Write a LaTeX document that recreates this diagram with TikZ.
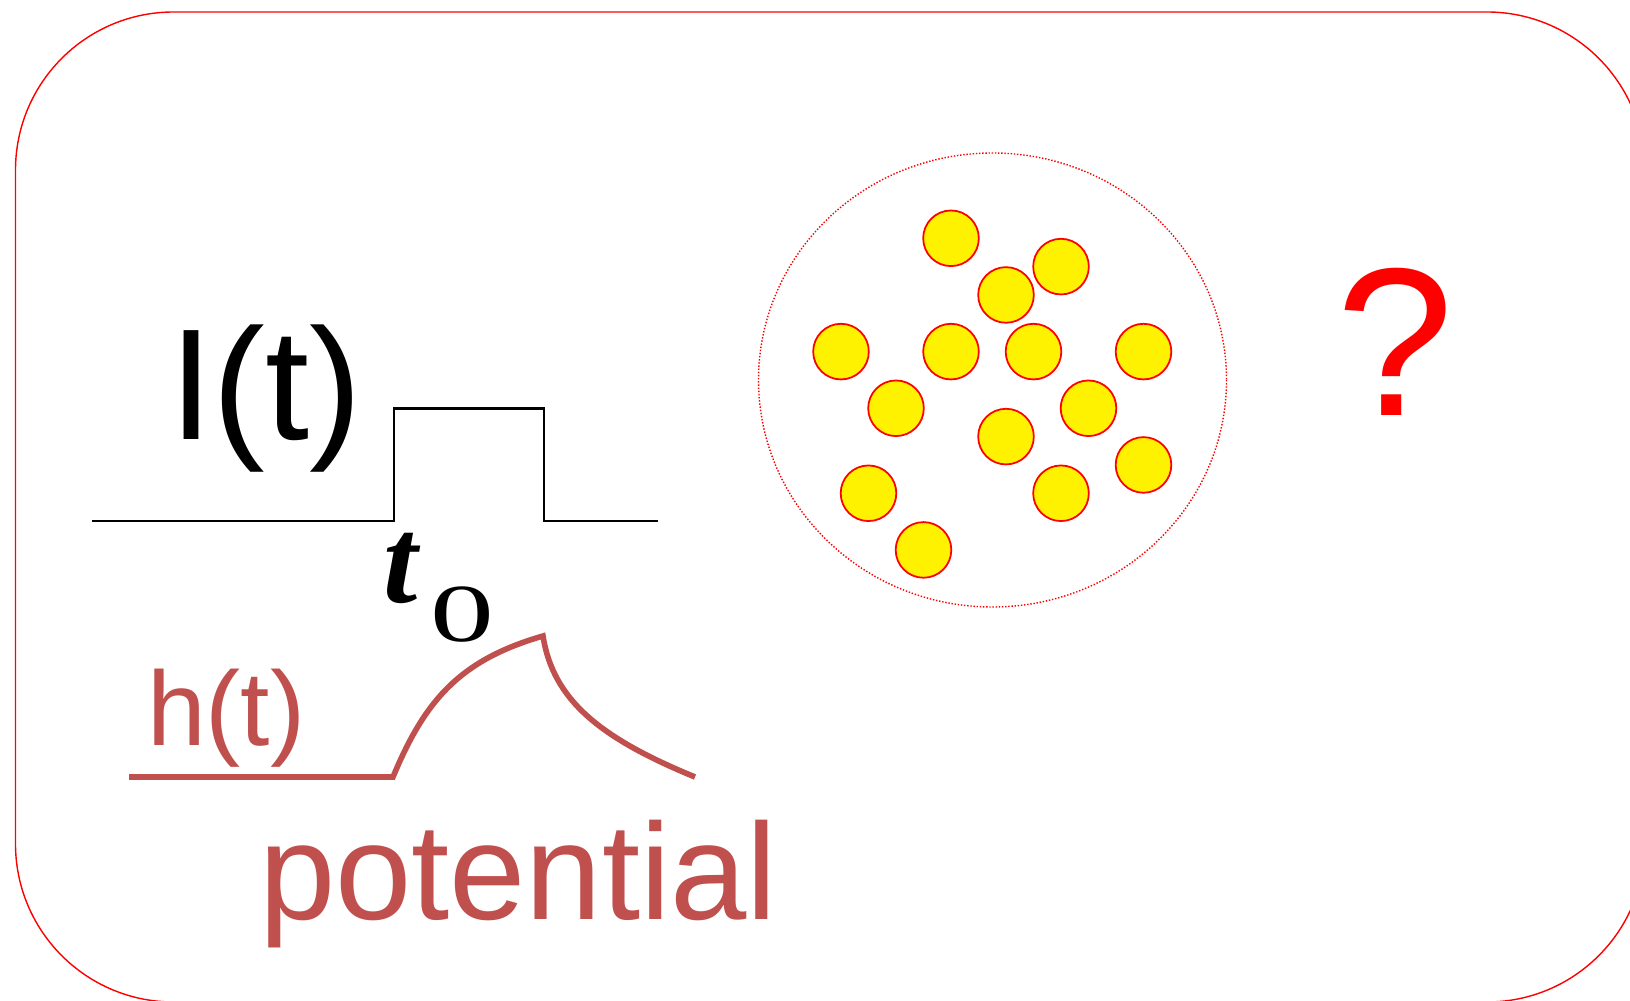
\documentclass[tikz,border=0pt]{standalone}
\usepackage{fontspec}
\setmainfont{Liberation Sans}
\newfontfamily\timesfont{Liberation Serif}
\usetikzlibrary{positioning}
\definecolor{pot}{RGB}{192,80,77}

\begin{document}
\begin{tikzpicture}[
    x=0.01cm, y=-0.01cm,
    lbl/.style={inner sep=0pt, outer sep=0pt, anchor=base west},
    particle/.style={circle, draw=red, fill=yellow, line width=0.5pt, minimum size=0.556cm, inner sep=0pt},
    pulse/.style={line width=0.6pt, line join=miter},
    response/.style={draw=pot, line width=1.6pt, line join=miter}
]
    \useasboundingbox (0,0) rectangle (1630,1001);

    % Frame
    \draw[red, line width=0.4pt, rounded corners=1.58cm] (15.5,12) rectangle (1645,1002);

    % Input current
    \node[lbl, font=\fontsize{45}{45}\selectfont] (current) at (169,440) {I(t)};
    \draw[pulse] (91.5,521) -- (394,521) -- (394,408.5) -- (544,408.5) -- (544,521) -- (658,521);
    \node[lbl, font=\timesfont\bfseries\itshape\fontsize{35}{35}\selectfont] (tzero) at (383,603) {t};
    \node[lbl, font=\timesfont\fontsize{23.4}{23.4}\selectfont] (tsub) at (430,642) {\scalebox{1.55}[1]{0}};

    % Response
    \node[lbl, text=pot, font=\fontsize{30}{30}\selectfont] (kernel) at (147,746) {h(t)};
    \draw[response] (129,777) -- (393,777)
        .. controls (425,700) and (460,660) .. (543,636)
        .. controls (553,700) and (600,738) .. (695,777);
    \node[lbl, text=pot, font=\fontsize{39}{39}\selectfont] (potential) at (259,920) {potential};

    % Neuron population
    \draw[red, line width=0.4pt, dash pattern=on 0.4pt off 0.5pt] (992.5,380) ellipse [x radius=234, y radius=227];
    \foreach \i/\j [count=\n] in {4/0,8/1,6/2,0/4,4/4,7/4,11/4,2/6,9/6,6/7,11/8,1/9,8/9,3/11}
        \node[particle] (cell\n) at (841+27.5*\i, 238.3+28.33*\j) {};

    % Question
    \node[lbl, text=red, font=\fontsize{60}{60}\selectfont] (query) at (1336,416) {?};
\end{tikzpicture}
\end{document}
